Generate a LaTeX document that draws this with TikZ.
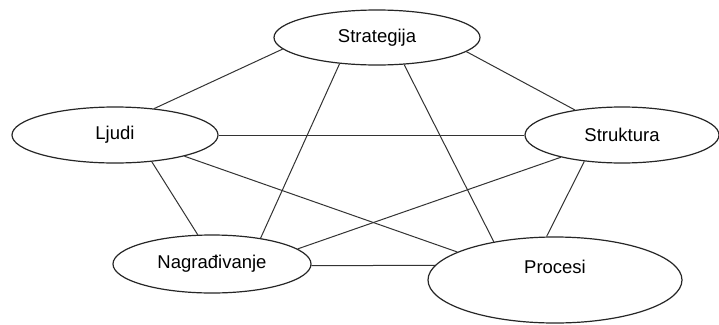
\documentclass[tikz,border=0pt]{standalone}
\usepackage{fontspec}
\setmainfont{Liberation Sans}
\usetikzlibrary{shapes.geometric}
\begin{document}
\begin{tikzpicture}[x=1pt,y=-1pt,
  oval/.style={draw=black!85,line width=1.2pt,ellipse,inner sep=0pt,fill=white,
    font=\fontsize{18.5}{22}\selectfont},
  lbl/.style={inner sep=0pt,font=\fontsize{18.5}{22}\selectfont},
  link/.style={draw=black!80,line width=1pt}]
\fill[white] (0,0) rectangle (719,324);
\useasboundingbox (0,0) rectangle (719,324);
\node[oval,minimum width=206,minimum height=55] (S) at (377,37.5) {Strategija};
\node[oval,minimum width=206,minimum height=56] (L) at (115,135) {Ljudi};
\node[oval,minimum width=194,minimum height=56] (T) at (622,135) {Struktura};
\node[oval,minimum width=198,minimum height=58] (N) at (212,264) {Nagrađivanje};
\node[oval,minimum width=254,minimum height=86] (P) at (555,280) {};
\node[lbl] (Pl) at (555,267) {Procesi};
\draw[link] (S.187) -- (L.34);
\draw[link] (S.351) -- (T.152);
\draw[link] (S.215.6) -- (N.28);
\draw[link] (S.315.5) -- (P.148.2);
\draw[link] (L.0) -- (T.180);
\draw[link] (L.324.6) -- (N.116.6);
\draw[link] (L.343.7) -- (P.164.1);
\draw[link] (T.200.7) -- (N.10.3);
\draw[link] (T.215.7) -- (P.101.8);
\draw[link] (N.359) -- (P.173.4);
\end{tikzpicture}
\end{document}
